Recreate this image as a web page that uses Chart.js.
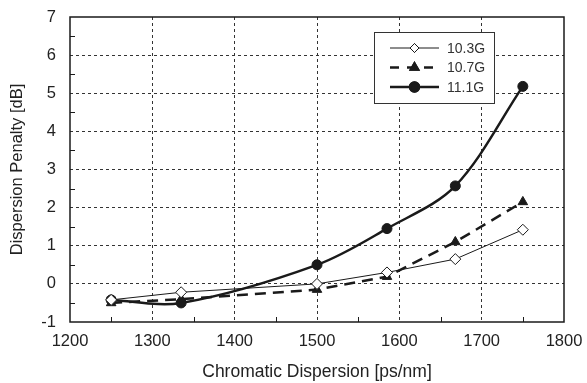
<!DOCTYPE html>
<html>
<head>
<meta charset="utf-8">
<script src="https://cdn.jsdelivr.net/npm/chart.js@4/dist/chart.umd.min.js"></script>
<style>
  html, body { margin: 0; padding: 0; background: #fff; }
  #wrap { width: 587px; height: 383px; }
</style>
</head>
<body>
<div id="wrap"><canvas id="grafico" width="587" height="383"></canvas></div>
<script>
/* DATA */
const dispersao = [1250, 1335, 1500, 1585, 1668, 1750];
const penalty103 = [-0.42, -0.22, 0.0, 0.3, 0.65, 1.42];
const penalty107 = [-0.5, -0.4, -0.15, 0.19, 1.1, 2.15];
const penalty111 = [-0.42, -0.5, 0.5, 1.45, 2.57, 5.18];
const nomes = ['10.3G', '10.7G', '11.1G'];

const corLinha = '#1a1a1a';
const fonte = '"Liberation Sans", Arial, sans-serif';

function pontos(ys) {
    return dispersao.map((x, i) => ({ x: x, y: ys[i] }));
}

/* minor ticks, frame and legend box */
const molduraPlugin = {
    id: 'moldura',
    afterDraw(chart) {
        const ctx = chart.ctx;
        const area = chart.chartArea;
        const sx = chart.scales.x;
        const sy = chart.scales.y;
        ctx.save();
        ctx.strokeStyle = corLinha;
        ctx.lineWidth = 1;
        ctx.setLineDash([]);
        // minor ticks, pointing inside
        for (let v = 1250; v < 1800; v += 100) {
            const px = Math.round(sx.getPixelForValue(v)) + 0.5;
            ctx.beginPath();
            ctx.moveTo(px, area.bottom);
            ctx.lineTo(px, area.bottom - 5);
            ctx.stroke();
        }
        for (let v = -0.5; v < 7; v += 1) {
            const py = Math.round(sy.getPixelForValue(v)) + 0.5;
            ctx.beginPath();
            ctx.moveTo(area.left, py);
            ctx.lineTo(area.left + 5, py);
            ctx.stroke();
        }
        // frame
        ctx.lineWidth = 1.5;
        ctx.strokeRect(area.left, area.top, area.right - area.left, area.bottom - area.top);

        // legend
        const lx = area.right - 190;
        const ly = area.top + 15;
        const lw = 120;
        const lh = 71;
        ctx.fillStyle = '#fff';
        ctx.fillRect(lx, ly, lw, lh);
        ctx.lineWidth = 1;
        ctx.strokeStyle = '#333';
        ctx.strokeRect(lx + 0.5, ly + 0.5, lw, lh);

        const marcas = [4.5, 4, 4.5];
        chart.data.datasets.forEach((ds, i) => {
            const y = ly + 16 + i * 19.5;
            const x0 = lx + 16;
            const x1 = lx + 65;
            const xm = (x0 + x1) / 2;
            ctx.strokeStyle = corLinha;
            ctx.lineWidth = ds.borderWidth;
            ctx.setLineDash(ds.borderDash ? [9, 8] : []);
            ctx.beginPath();
            ctx.moveTo(x0, y);
            ctx.lineTo(x1, y);
            ctx.stroke();
            ctx.setLineDash([]);
            Chart.helpers.drawPoint(ctx, {
                pointStyle: ds.pointStyle,
                radius: marcas[i],
                borderWidth: 1,
                rotation: 0
            }, xm, y);
            ctx.fillStyle = ds.pointBackgroundColor;
            ctx.strokeStyle = corLinha;
            ctx.fill();
            ctx.stroke();
            ctx.fillStyle = '#333';
            ctx.font = '14px ' + fonte;
            ctx.textBaseline = 'middle';
            ctx.textAlign = 'left';
            ctx.fillText(ds.label, lx + 73, y + 1);
        });
        ctx.restore();
    }
};

const graficoDispersao = new Chart(document.querySelector('#grafico'), {
    type: 'line',
    data: {
        datasets: [{
            label: nomes[0],
            data: pontos(penalty103),
            borderColor: corLinha,
            borderWidth: 1,
            tension: 0,
            pointStyle: 'rectRot',
            pointRadius: 5.5,
            pointBackgroundColor: '#fff',
            pointBorderColor: corLinha,
            pointBorderWidth: 1
        }, {
            label: nomes[1],
            data: pontos(penalty107),
            borderColor: corLinha,
            borderWidth: 2.5,
            borderDash: [11, 7],
            tension: 0,
            pointStyle: 'triangle',
            pointRadius: 5.5,
            pointBackgroundColor: corLinha,
            pointBorderColor: corLinha,
            pointBorderWidth: 1
        }, {
            label: nomes[2],
            data: pontos(penalty111),
            borderColor: corLinha,
            borderWidth: 2.5,
            tension: 0.33,
            pointStyle: 'circle',
            pointRadius: 5,
            pointBackgroundColor: corLinha,
            pointBorderColor: corLinha,
            pointBorderWidth: 1
        }]
    },
    options: {
        responsive: false,
        animation: false,
        layout: { padding: { top: 17, right: 23, left: 0, bottom: 0 } },
        plugins: {
            legend: { display: false },
            tooltip: { enabled: false }
        },
        scales: {
            x: {
                type: 'linear',
                min: 1200,
                max: 1800,
                afterFit: (scale) => {
                    scale.height = 61;
                    scale.paddingLeft = 0;
                    scale.paddingRight = 0;
                },
                ticks: {
                    stepSize: 50,
                    autoSkip: false,
                    maxRotation: 0,
                    padding: 10,
                    color: '#222',
                    font: { family: fonte, size: 16.5 },
                    callback: (v) => (v % 100 === 0 ? v : '')
                },
                grid: {
                    drawTicks: false,
                    lineWidth: 1,
                    color: (c) => {
                        const v = c.tick && c.tick.value;
                        return (v % 100 === 0 && v > 1200 && v < 1800) ? '#333' : 'rgba(0,0,0,0)';
                    }
                },
                border: { display: false, dash: [3, 3] },
                title: {
                    display: true,
                    text: 'Chromatic Dispersion [ps/nm]',
                    color: '#222',
                    padding: 0,
                    font: { family: fonte, size: 17.5 }
                }
            },
            y: {
                min: -1,
                max: 7,
                afterFit: (scale) => {
                    scale.width = 70;
                    scale.paddingTop = 0;
                    scale.paddingBottom = 0;
                },
                ticks: {
                    stepSize: 0.5,
                    autoSkip: false,
                    padding: 14,
                    color: '#222',
                    font: { family: fonte, size: 16.5 },
                    callback: (v) => (Number.isInteger(v) ? v : '')
                },
                grid: {
                    drawTicks: false,
                    lineWidth: 1,
                    color: (c) => {
                        const v = c.tick && c.tick.value;
                        return (Number.isInteger(v) && v > -1 && v < 7) ? '#333' : 'rgba(0,0,0,0)';
                    }
                },
                border: { display: false, dash: [3, 3] },
                title: {
                    display: true,
                    text: 'Dispersion Penalty [dB]',
                    color: '#222',
                    padding: { top: 8, bottom: 0 },
                    font: { family: fonte, size: 16.5 }
                }
            }
        }
    },
    plugins: [molduraPlugin]
});
</script>
</body>
</html>
